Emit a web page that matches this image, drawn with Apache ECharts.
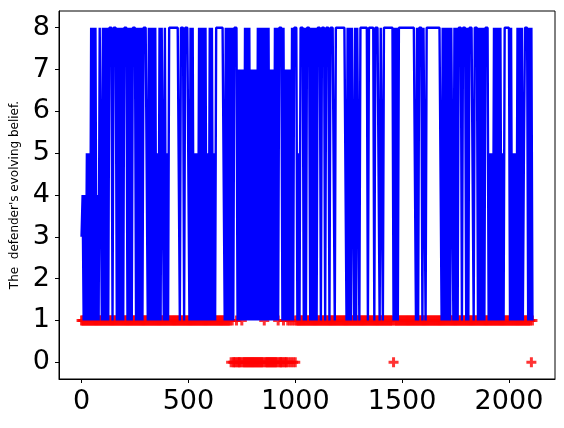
<!DOCTYPE html>
<html>
<head>
<meta charset="utf-8">
<script src="https://cdn.jsdelivr.net/npm/echarts@6/dist/echarts.min.js"></script>
<style>
  html, body { margin: 0; padding: 0; background: #fff; }
  #chart { width: 564px; height: 428px; }
</style>
</head>
<body>
<div id="chart"></div>
<script>
// one sample every STEP time steps, each character is the value at that sample
const STEP = 5
// defender's belief (blue line), 10 samples per chunk
const beliefChunks = [
  '3414151518', '1818141881', '8181818881', '8881818181', '8881818188',
  '8181818188', '8818181818', '1518188181', '5188888888', '8818881888',
  '8181815151', '8181818151', '8181518888', '8888181818', '1818881717',
  '1718181817', '1717181818', '1818181717', '1818188818', '1717171818',
  '8815188818', '1888181818', '1888188818', '8818888188', '8888888818',
  '1818818188', '1888888818', '8888188881', '8818888888', '8818181888',
  '8888888888', '8881818881', '8818888888', '8888888181', '8181818818',
  '1818881888', '1818888188', '8181818188', '8151518181', '8181518888',
  '8181515181', '8181588818', '181'
]
// red '+' markers (true type), same sampling
const typeChunks = [
  '1111111111', '1111111111', '1111111111', '1111111111', '1111111111',
  '1111111111', '1111111111', '1111111111', '1111111111', '1111111111',
  '1111111111', '1111111111', '1111111111', '1111111111', '0100010000',
  '1000000000', '0000000000', '0100000000', '0000100001', '0001010101',
  '0111111111', '1111111111', '1111111111', '1111111111', '1111111111',
  '1111111111', '1111111111', '1111111111', '1111111111', '1101111111',
  '1111111111', '1111111111', '1111111111', '1111111111', '1111111111',
  '1111111111', '1111111111', '1111111111', '1111111111', '1111111111',
  '1111111111', '1111111111', '101'
]
const xTicks = [0, 500, 1000, 1500, 2000]
const yTicks = [0, 1, 2, 3, 4, 5, 6, 7, 8]

function toPoints(chunks) {
  return chunks.join('').split('').map((c, i) => [i * STEP, Number(c)])
}

const chart = echarts.init(document.getElementById('chart'), null, { renderer: 'canvas' })
const font = 'DejaVu Sans'

chart.setOption({
  animation: false,
  grid: {
    left: 59,
    top: 11,
    right: 9,
    bottom: 49,
    show: true,
    borderColor: '#000',
    borderWidth: 1
  },
  xAxis: {
    type: 'value',
    min: -105.5,
    max: 2215.5,
    splitLine: { show: false },
    axisLine: { show: true, onZero: false, lineStyle: { color: '#000', width: 1 } },
    axisTick: { show: true, length: 4, customValues: xTicks, lineStyle: { color: '#000' } },
    axisLabel: {
      customValues: xTicks,
      formatter: v => String(v),
      color: '#000',
      fontFamily: font,
      fontSize: 27,
      margin: 9
    }
  },
  yAxis: {
    type: 'value',
    min: -0.4,
    max: 8.4,
    name: 'The  defender\'s evolving belief.',
    nameLocation: 'middle',
    nameGap: 38,
    nameTextStyle: { color: '#000', fontFamily: font, fontSize: 12 },
    splitLine: { show: false },
    axisLine: { show: true, onZero: false, lineStyle: { color: '#000', width: 1 } },
    axisTick: { show: true, length: 4, customValues: yTicks, lineStyle: { color: '#000' } },
    axisLabel: {
      customValues: yTicks,
      formatter: v => String(v),
      color: '#000',
      fontFamily: font,
      fontSize: 27,
      margin: 9
    }
  },
  series: [
    {
      type: 'line',
      data: toPoints(beliefChunks),
      showSymbol: false,
      symbol: 'none',
      lineStyle: { color: '#0000ff', width: 2.4 },
      sampling: 'none'
    },
    {
      type: 'scatter',
      data: toPoints(typeChunks),
      symbol: 'path://M3.5,0H6.5V3.5H10V6.5H6.5V10H3.5V6.5H0V3.5H3.5Z',
      symbolSize: 10,
      itemStyle: { color: '#ff0000' }
    }
  ]
})
</script>
</body>
</html>
